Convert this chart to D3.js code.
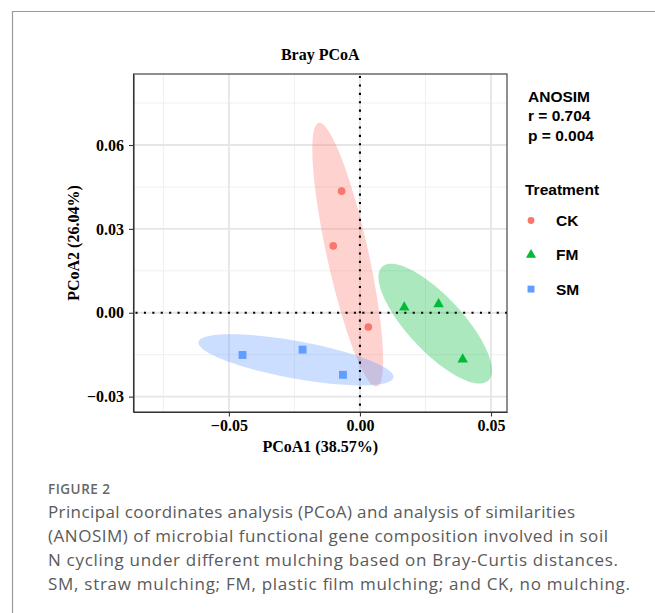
<!DOCTYPE html>
<html>
<head>
<meta charset="utf-8">
<script src="https://cdn.jsdelivr.net/npm/d3@7"></script>
<style>
  body { margin: 0; background: #fff; }
  svg { display: block; }
</style>
</head>
<body>
<svg id="fig" width="655" height="613"></svg>
<script>
// ---- data ----
const groups = ["CK", "FM", "SM"];
const groupColors = ["#F8766D", "#00BA38", "#619CFF"];
const groupShapes = ["circle", "triangle", "square"];

const ckX = [-0.0070, -0.0102, 0.0032];
const ckY = [0.0435, 0.0239, -0.0051];
const fmX = [0.0169, 0.0300, 0.0392];
const fmY = [0.0019, 0.0031, -0.0167];
const smX = [-0.0448, -0.0219, -0.0065];
const smY = [-0.0151, -0.0132, -0.0222];

const xTicks = [-0.05, 0, 0.05];
const yTicks = [-0.03, 0, 0.03, 0.06];
const xMinor = [-0.075, -0.025, 0.025];
const yMinor = [-0.015, 0.015, 0.045, 0.075];
const xDomain = [-0.0864, 0.0561];
const yDomain = [-0.0355, 0.0854];

const chartTitle = "Bray PCoA";
const xTitle = "PCoA1 (38.57%)";
const yTitle = "PCoA2 (26.04%)";
const anosimLines = ["ANOSIM", "r = 0.704", "p = 0.004"];
const legendTitle = "Treatment";
const figureLabel = "FIGURE 2";
const captionLines = [
  "Principal coordinates analysis (PCoA) and analysis of similarities",
  "(ANOSIM) of microbial functional gene composition involved in soil",
  "N cycling under different mulching based on Bray-Curtis distances.",
  "SM, straw mulching; FM, plastic film mulching; and CK, no mulching."
];

// confidence-ellipse radius (in standard deviations)
const ellipseScale = 1.93;

// ---- build ----
const series = [
  { name: groups[0], xs: ckX, ys: ckY },
  { name: groups[1], xs: fmX, ys: fmY },
  { name: groups[2], xs: smX, ys: smY }
].map((s, i) => ({
  ...s,
  color: groupColors[i],
  shape: groupShapes[i],
  points: s.xs.map((x, j) => ({ x, y: s.ys[j] }))
}));

const svg = d3.select("#fig");
const serif = "'Liberation Serif', 'Times New Roman', serif";
const sans = "'Liberation Sans', Arial, sans-serif";

// outer frame of the figure box
svg.append("path")
  .attr("d", "M12.5,613 V11.5 H655")
  .attr("fill", "none").attr("stroke", "#9a9a9a").attr("stroke-width", 1.2);

const panel = { left: 133.5, right: 507, top: 74, bottom: 412 };
const x = d3.scaleLinear().domain(xDomain).range([panel.left, panel.right]);
const y = d3.scaleLinear().domain(yDomain).range([panel.bottom, panel.top]);

const g = svg.append("g");

// grid
const grid = g.append("g");
grid.selectAll(".xmin").data(xMinor).join("line")
  .attr("x1", d => x(d)).attr("x2", d => x(d))
  .attr("y1", panel.top).attr("y2", panel.bottom)
  .attr("stroke", "#f0f0f0").attr("stroke-width", 1);
grid.selectAll(".ymin").data(yMinor).join("line")
  .attr("y1", d => y(d)).attr("y2", d => y(d))
  .attr("x1", panel.left).attr("x2", panel.right)
  .attr("stroke", "#f0f0f0").attr("stroke-width", 1);
grid.selectAll(".xmaj").data(xTicks).join("line")
  .attr("x1", d => x(d)).attr("x2", d => x(d))
  .attr("y1", panel.top).attr("y2", panel.bottom)
  .attr("stroke", "#e6e6e6").attr("stroke-width", 1.8);
grid.selectAll(".ymaj").data(yTicks).join("line")
  .attr("y1", d => y(d)).attr("y2", d => y(d))
  .attr("x1", panel.left).attr("x2", panel.right)
  .attr("stroke", "#e6e6e6").attr("stroke-width", 1.8);

// ellipses from each group's covariance
function ellipsePath(pts) {
  const n = pts.length;
  const mx = d3.mean(pts, p => p.x), my = d3.mean(pts, p => p.y);
  let sxx = 0, syy = 0, sxy = 0;
  pts.forEach(p => {
    sxx += (p.x - mx) ** 2; syy += (p.y - my) ** 2; sxy += (p.x - mx) * (p.y - my);
  });
  sxx /= n - 1; syy /= n - 1; sxy /= n - 1;
  // Cholesky factor of the covariance
  const a = Math.sqrt(sxx), b = sxy / a, c = Math.sqrt(Math.max(syy - b * b, 0));
  const out = [];
  for (let k = 0; k < 120; k++) {
    const t = 2 * Math.PI * k / 120;
    const u = Math.cos(t), v = Math.sin(t);
    out.push([x(mx + ellipseScale * a * u), y(my + ellipseScale * (b * u + c * v))]);
  }
  return d3.line().curve(d3.curveLinearClosed)(out);
}

const clipId = "panelClip";
svg.append("clipPath").attr("id", clipId).append("rect")
  .attr("x", panel.left).attr("y", panel.top)
  .attr("width", panel.right - panel.left).attr("height", panel.bottom - panel.top);

g.append("g").attr("clip-path", `url(#${clipId})`)
  .selectAll("path").data(series).join("path")
  .attr("d", d => ellipsePath(d.points))
  .attr("fill", d => d.color).attr("fill-opacity", 0.33).attr("stroke", "none");

// reference lines at zero
g.append("line")
  .attr("x1", x(0)).attr("x2", x(0)).attr("y1", panel.top + 2).attr("y2", panel.bottom)
  .attr("stroke", "#000").attr("stroke-width", 2.1).attr("stroke-dasharray", "2.1 6.3");
g.append("line")
  .attr("y1", y(0)).attr("y2", y(0)).attr("x1", panel.left + 2).attr("x2", panel.right)
  .attr("stroke", "#000").attr("stroke-width", 2.1).attr("stroke-dasharray", "2.1 6.3");

// points
const symbolOf = { circle: d3.symbolCircle, triangle: d3.symbolTriangle, square: d3.symbolSquare };
const sizeOf = { circle: 46, triangle: 48, square: 62 };
series.forEach(s => {
  g.append("g").selectAll("path").data(s.points).join("path")
    .attr("transform", d => `translate(${x(d.x)},${y(d.y)})`)
    .attr("d", d3.symbol().type(symbolOf[s.shape]).size(sizeOf[s.shape]))
    .attr("fill", s.color);
});

// panel border
g.append("rect")
  .attr("x", panel.left).attr("y", panel.top)
  .attr("width", panel.right - panel.left).attr("height", panel.bottom - panel.top)
  .attr("fill", "none").attr("stroke", "#333").attr("stroke-width", 1.1);

// axes
const fmt = d3.format(".2f");
const xAxis = g.append("g").attr("transform", `translate(0,${panel.bottom})`)
  .call(d3.axisBottom(x).tickValues(xTicks).tickFormat(fmt)
    .tickSizeInner(4.5).tickSizeOuter(0).tickPadding(3));
const yAxis = g.append("g").attr("transform", `translate(${panel.left},0)`)
  .call(d3.axisLeft(y).tickValues(yTicks).tickFormat(fmt)
    .tickSizeInner(4.5).tickSizeOuter(0).tickPadding(5));
[xAxis, yAxis].forEach(ax => {
  ax.select(".domain").attr("stroke", "#333").attr("stroke-width", 1.1);
  ax.selectAll(".tick line").attr("stroke", "#333").attr("stroke-width", 1.1);
  ax.selectAll(".tick text")
    .attr("fill", "#000")
    .style("font-family", serif).style("font-weight", "bold").style("font-size", "16px");
});

// titles
svg.append("text").attr("x", (panel.left + panel.right) / 2).attr("y", 60)
  .attr("text-anchor", "middle")
  .style("font-family", serif).style("font-weight", "bold").style("font-size", "16px")
  .text(chartTitle);
svg.append("text").attr("x", (panel.left + panel.right) / 2).attr("y", 452)
  .attr("text-anchor", "middle")
  .style("font-family", serif).style("font-weight", "bold").style("font-size", "16px")
  .text(xTitle);
svg.append("text")
  .attr("transform", `translate(78.5,${(panel.top + panel.bottom) / 2}) rotate(-90)`)
  .attr("text-anchor", "middle")
  .style("font-family", serif).style("font-weight", "bold").style("font-size", "16px")
  .text(yTitle);

// ANOSIM statistics
svg.append("g").selectAll("text").data(anosimLines).join("text")
  .attr("x", 528).attr("y", (d, i) => 101.5 + i * 19.5)
  .style("font-family", sans).style("font-weight", "bold").style("font-size", "15.5px")
  .text(d => d);

// legend
const legend = svg.append("g");
legend.append("text").attr("x", 525).attr("y", 195)
  .style("font-family", sans).style("font-weight", "bold").style("font-size", "15.5px")
  .text(legendTitle);
const keySize = { circle: 36, triangle: 44, square: 48 };
const items = legend.selectAll(".item").data(series).join("g")
  .attr("transform", (d, i) => `translate(0,${220.5 + i * 34.3})`);
items.append("path")
  .attr("transform", "translate(531,0)")
  .attr("d", d => d3.symbol().type(symbolOf[d.shape]).size(keySize[d.shape])())
  .attr("fill", d => d.color);
items.append("text").attr("x", 556).attr("y", 5.5)
  .style("font-family", sans).style("font-weight", "bold").style("font-size", "15.5px")
  .text(d => d.name);

// caption block below the figure
const capFont = "'Open Sans', 'Noto Sans', sans-serif";
const capLeft = 48;
const capLineWidths = [527, 560, 570, 582];
svg.append("text").attr("x", capLeft).attr("y", 494)
  .attr("fill", "#676767")
  .style("font-family", capFont).style("font-weight", 600).style("font-size", "13.5px")
  .style("letter-spacing", "0.5px")
  .text(figureLabel);
svg.append("g").selectAll("text").data(captionLines).join("text")
  .attr("x", capLeft).attr("y", (d, i) => 518 + i * 24)
  .attr("textLength", (d, i) => capLineWidths[i])
  .attr("lengthAdjust", "spacing")
  .attr("fill", "#5a5a5a")
  .style("font-family", capFont).style("font-weight", 400).style("font-size", "17px")
  .text(d => d);
</script>
</body>
</html>
